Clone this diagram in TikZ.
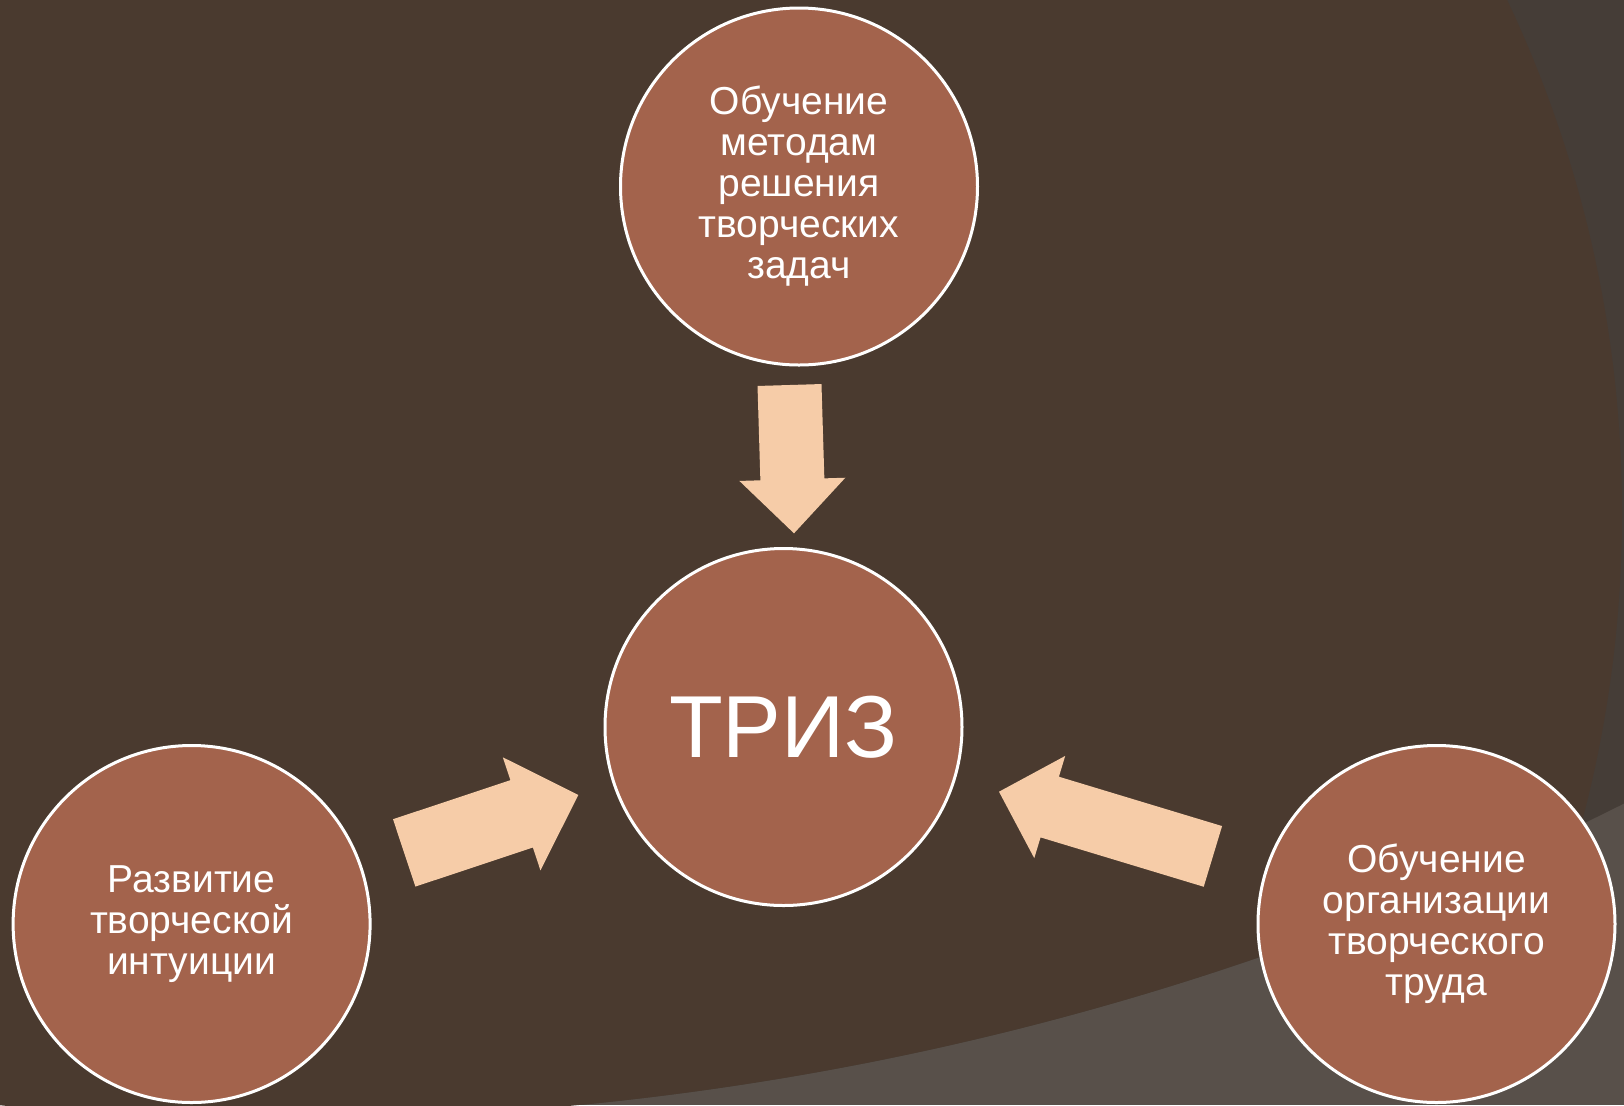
\documentclass[tikz,border=0pt]{standalone}
\usepackage{fontspec}
\setmainfont{Liberation Sans}
\usetikzlibrary{calc}
\definecolor{bgdark}{HTML}{4A3A2F}
\definecolor{bgmid}{HTML}{453D37}
\definecolor{bglight}{HTML}{58504A}
\definecolor{discfill}{HTML}{A3634C}
\definecolor{arrowfill}{HTML}{F6CCA8}
% #1 tail coordinate, #2 tip coordinate, #3 shaft half width, #4 head half width, #5 head length
\newcommand\myblockarrow[5]{%
  \coordinate (#1h) at ($(#2)!#5!(#1)$);
  \fill[arrowfill] ($(#1)!#3!90:(#2)$) -- ($(#1h)!#3!90:(#2)$) -- ($(#1h)!#4!90:(#2)$) -- (#2)
    -- ($(#1h)!#4!-90:(#2)$) -- ($(#1h)!#3!-90:(#2)$) -- ($(#1)!#3!-90:(#2)$) -- cycle;}
\begin{document}
\begin{tikzpicture}[x=0.5pt,y=-0.5pt,
  disc/.style={circle, fill=discfill, draw=white, line width=1.5pt, minimum size=178.5pt,
    inner sep=0pt, text=white, align=center, font=\fontsize{19.5}{20.5}\selectfont}]
\useasboundingbox (0,0) rectangle (1624,1105);
% background
\fill[bglight] (0,0) rectangle (1624,1105);
\begin{scope}
  \clip (288,-1861) circle[radius=2980];
  \fill[bgmid] (0,0) rectangle (1624,1105);
  \fill[bgdark] (422,513) circle[radius=1200];
\end{scope}
% circles
\node[disc] (top) at (799,186.5) {Обучение\\методам\\решения\\творческих\\задач};
\node[disc, font=\fontsize{44}{46}\selectfont] (center) at (783.5,727) {ТРИЗ};
\node[disc] (left) at (191.6,924) {Развитие\\творческой\\интуиции};
\node[disc] (right) at (1436.5,924) {Обучение\\организации\\творческого\\труда};
% arrows
\coordinate (ta) at (789.5,385);
\coordinate (tb) at (794,533.3);
\coordinate (la) at (404.2,852.9);
\coordinate (lb) at (578.3,795);
\coordinate (ra) at (1212.9,856.4);
\coordinate (rb) at (999,791.7);
\myblockarrow{ta}{tb}{16pt}{26.5pt}{27pt}
\myblockarrow{la}{lb}{17.75pt}{29.8pt}{29.85pt}
\myblockarrow{ra}{rb}{15.85pt}{26.7pt}{26.5pt}
\end{tikzpicture}
\end{document}
